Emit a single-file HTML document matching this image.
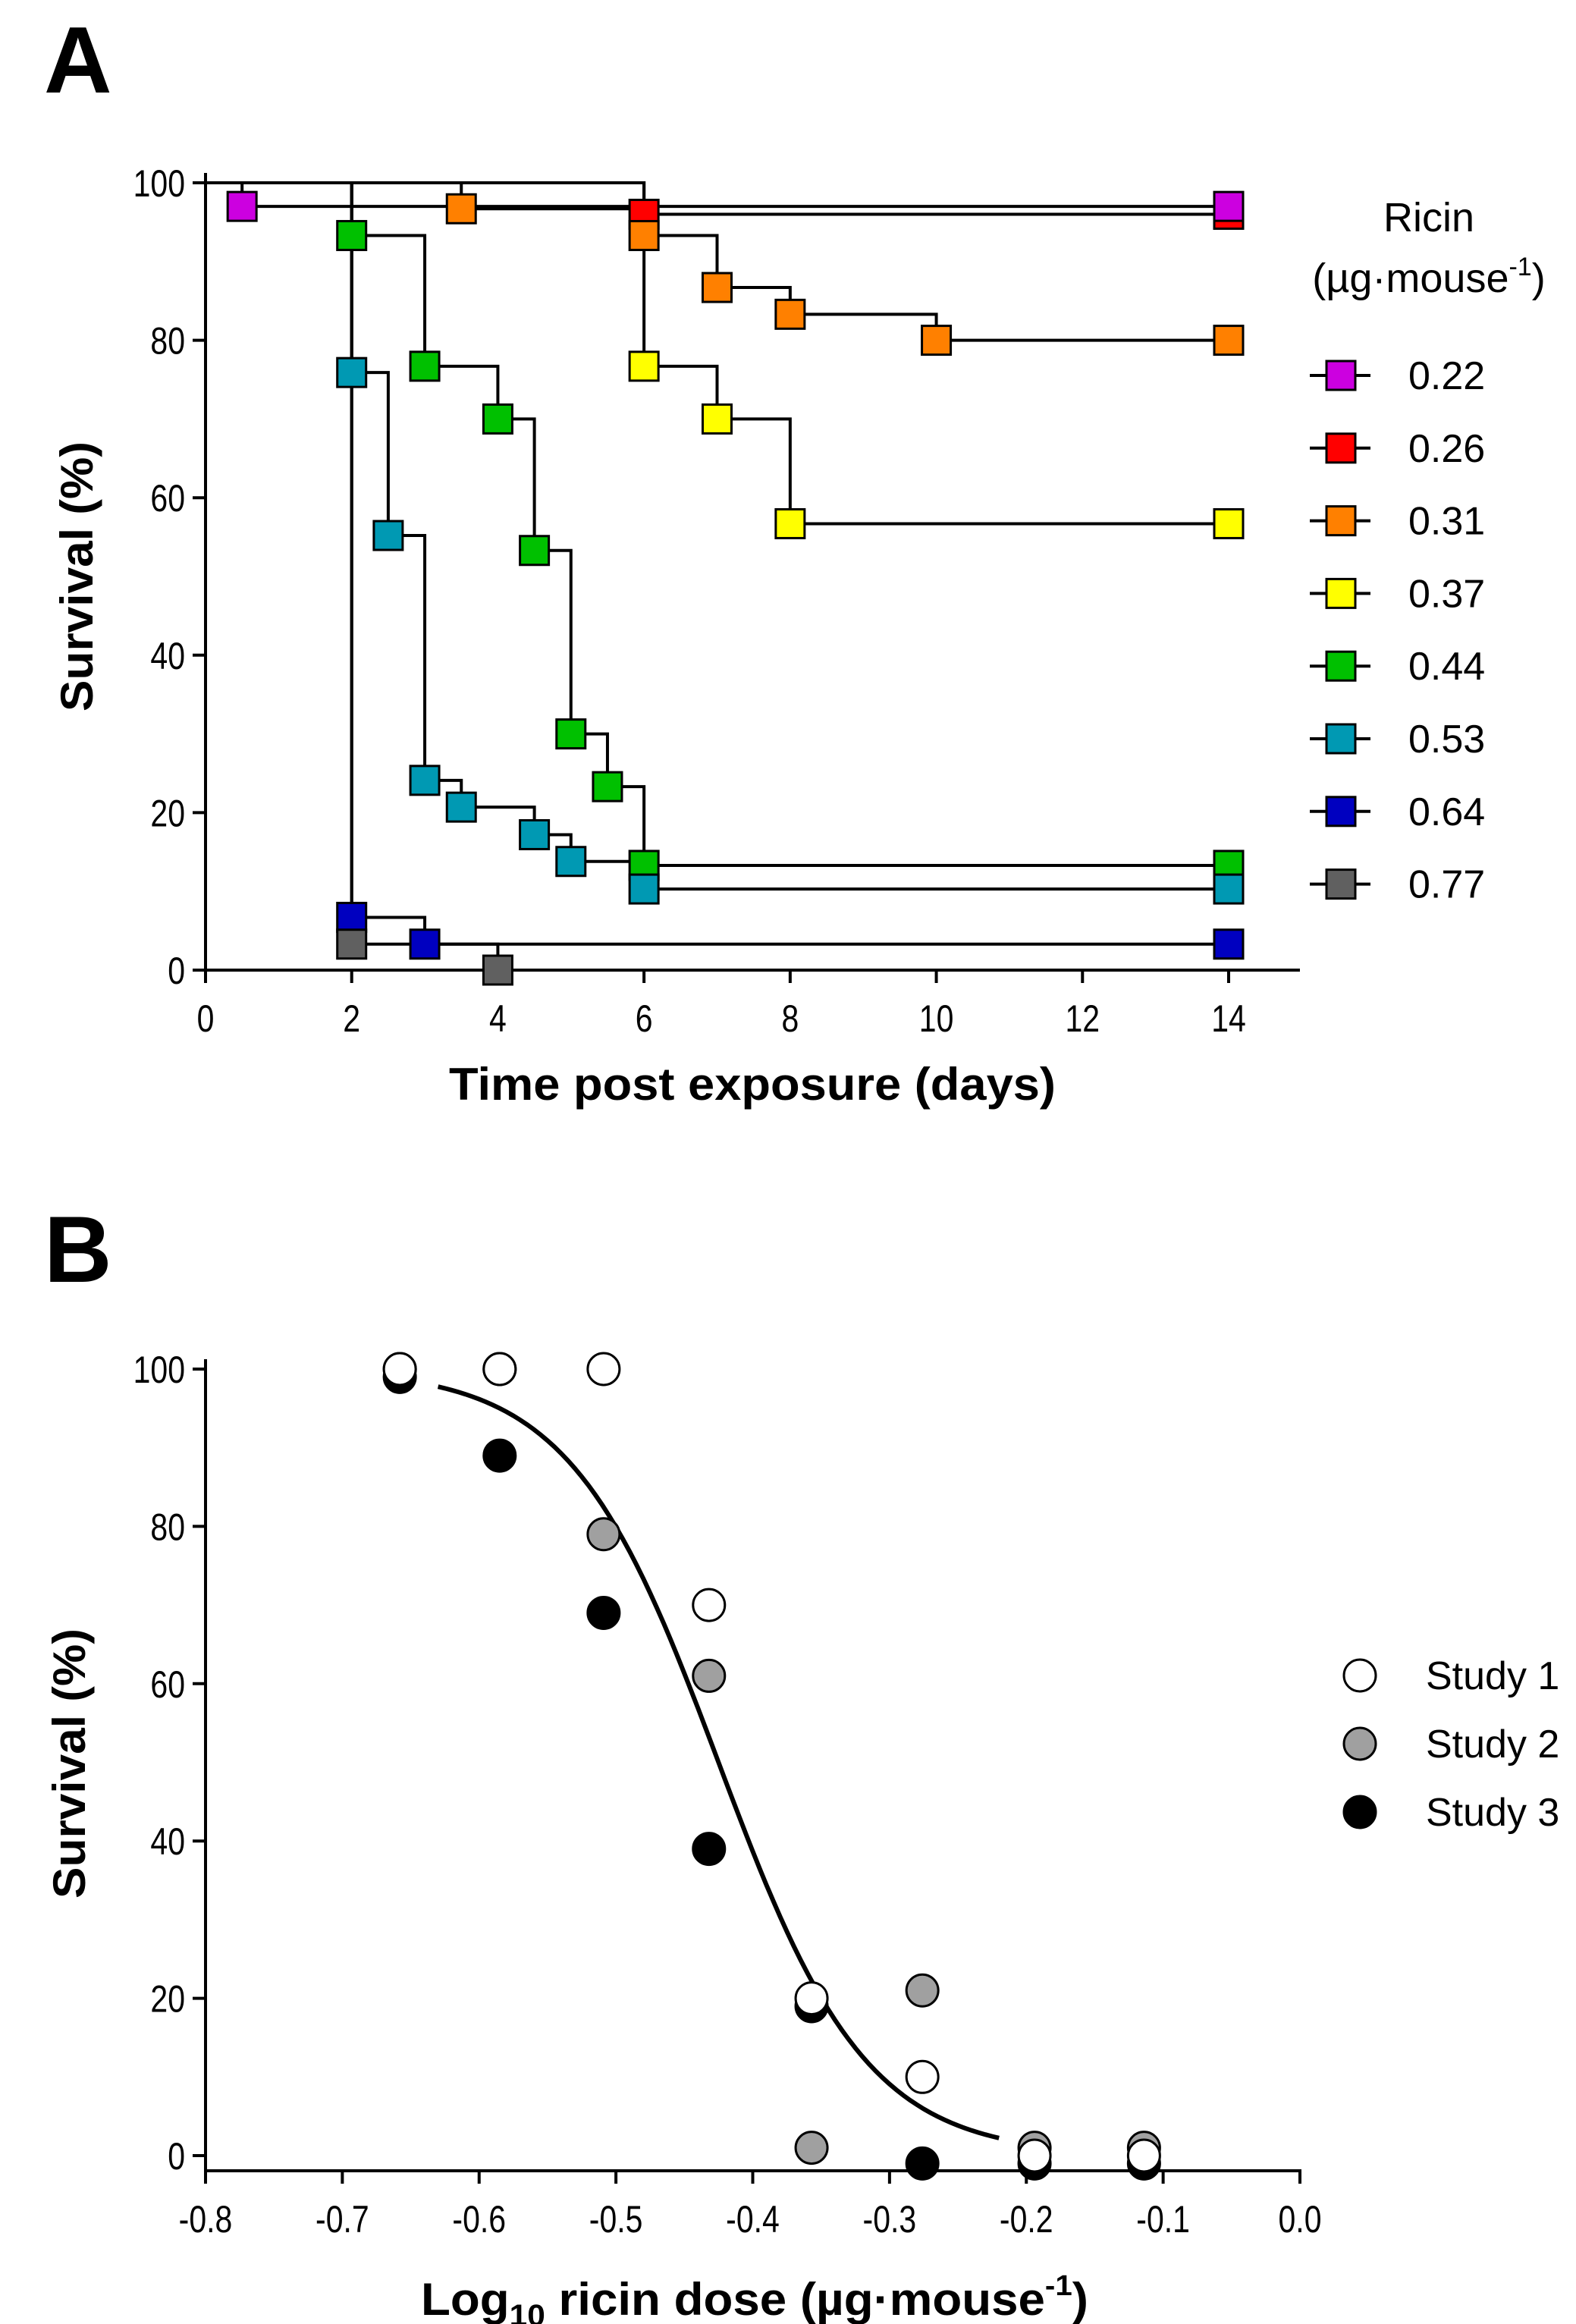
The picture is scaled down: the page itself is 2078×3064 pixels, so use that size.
<!DOCTYPE html>
<html><head><meta charset="utf-8"><style>
html,body{margin:0;padding:0;background:#fff}
svg{display:block;font-family:"Liberation Sans",Arial,sans-serif}
</style></head><body>
<svg id="fig" width="2078" height="3064" viewBox="0 0 2078 3064" xmlns="http://www.w3.org/2000/svg">
<text x="58" y="122" font-size="124" font-weight="bold">A</text>
<text x="58" y="1690" font-size="124" font-weight="bold">B</text>
<g id="pa"></g>
<g id="pb"></g>
</svg>
<script>
const NS="http://www.w3.org/2000/svg";
// ---- Panel A data ----
const doses=["0.22","0.26","0.31","0.37","0.44","0.53","0.64","0.77"];
const colors=["#cc00e0","#ff0000","#ff8000","#ffff00","#00c000","#0099b3","#0000c0","#606060"];
const times022=[0.5,14], surv022=[97,97];
const times026=[6,14], surv026=[96,96];
const times031=[3.5,6,7,8,10,14], surv031=[96.7,93.3,86.7,83.3,80,80];
const times037=[6,7,8,14], surv037=[76.7,70,56.7,56.7];
const times044=[2,3,4,4.5,5,5.5,6,14], surv044=[93.3,76.7,70,53.3,30,23.3,13.3,13.3];
const times053=[2,2.5,3,3.5,4.5,5,6,14], surv053=[75.9,55.2,24.1,20.7,17.2,13.8,10.3,10.3];
const times064=[2,3,14], surv064=[6.7,3.3,3.3];
const times077=[2,4], surv077=[3.3,0];
const xTicksA=[0,2,4,6,8,10,12,14];
const yTicksA=[0,20,40,60,80,100];
// ---- Panel B data ----
const logDose=[-0.658,-0.585,-0.509,-0.432,-0.357,-0.276,-0.194,-0.114];
const study1=[100,100,100,70,20,10,0,0];
const study2=[100,100,79,61,1,21,1,1];
const study3=[99,89,69,39,19,-1,-1,-1];
const fitX50=-0.425, fitHill=8;
const xTicksB=["-0.8","-0.7","-0.6","-0.5","-0.4","-0.3","-0.2","-0.1","0.0"];
const yTicksB=[0,20,40,60,80,100];

function el(tag,attrs,parent){const e=document.createElementNS(NS,tag);for(const k in attrs)e.setAttribute(k,attrs[k]);parent.appendChild(e);return e;}
function tick(parent,x,y,txt,anchor){
  const t=el('text',{transform:`translate(${x},${y}) scale(0.82,1)`,'font-size':50,'text-anchor':anchor},parent);
  t.textContent=txt;return t;
}

// ===== Panel A =====
const pa=document.getElementById('pa');
const ax=t=>271+t*(1620-271)/14;
const ay=v=>1279-v*(1279-241)/100;
let e;
e=el('line',{x1:271,y1:228,x2:271,y2:1279,stroke:'#000','stroke-width':4},pa);


e=el('line',{x1:269,y1:1279,x2:1714,y2:1279,stroke:'#000','stroke-width':4},pa);


yTicksA.forEach(v=>{
  el('line',{x1:254,y1:ay(v),x2:271,y2:ay(v),stroke:'#000','stroke-width':4},pa);
  e=tick(pa,244,ay(v)+18,v,'end');
  
  
});
xTicksA.forEach(t=>{
  el('line',{x1:ax(t),y1:1279,x2:ax(t),y2:1296,stroke:'#000','stroke-width':4},pa);
  e=tick(pa,ax(t),1360,t,'middle');
  
  
});
e=el('text',{x:592,y:1450,'font-size':60,'font-weight':'bold',textLength:800,lengthAdjust:'spacingAndGlyphs'},pa);e.textContent='Time post exposure (days)';


e=el('text',{transform:'translate(122,760) rotate(-90)','font-size':60,'font-weight':'bold','text-anchor':'middle',textLength:356,lengthAdjust:'spacingAndGlyphs'},pa);e.textContent='Survival (%)';



const seriesA=[[times022,surv022],[times026,surv026],[times031,surv031],[times037,surv037],[times044,surv044],[times053,surv053],[times064,surv064],[times077,surv077]];
seriesA.forEach((s,i)=>{
  const [ts,vs]=s;let d=`M${ax(0)},${ay(100)}`;
  ts.forEach((t,j)=>{d+=` H${ax(t)} V${ay(vs[j])}`;});
  e=el('path',{d:d,fill:'none',stroke:'#000','stroke-width':4},pa);
  
  
});
const order=[1,2,3,4,5,6,7,0];
order.forEach(i=>{
  const [ts,vs]=seriesA[i];
  ts.forEach((t,j)=>{
    e=el('rect',{x:ax(t)-19,y:ay(vs[j])-19,width:38,height:38,fill:colors[i],stroke:'#000','stroke-width':3},pa);
    
    
  });
});
// legend A
e=el('text',{x:1884,y:305,'font-size':54,'text-anchor':'middle'},pa);e.textContent='Ricin';


e=el('text',{x:1884,y:385,'font-size':54,'text-anchor':'middle'},pa);
e.innerHTML='(µg·mouse<tspan font-size="34" dy="-22">-1</tspan><tspan dy="22">)</tspan>';


doses.forEach((d,i)=>{
  const y=495+i*95.8;
  const g=el('g',{},pa);
  
  
  el('line',{x1:1727,y1:y,x2:1807,y2:y,stroke:'#000','stroke-width':4},g);
  el('rect',{x:1749,y:y-19,width:38,height:38,fill:colors[i],stroke:'#000','stroke-width':3},g);
  const t=el('text',{x:1857,y:y+18,'font-size':52},g);t.textContent=d;
});

// ===== Panel B =====
const pb=document.getElementById('pb');
const bx=v=>271+(v+0.8)*(1714-271)/0.8;
const by=v=>2842-v*(2842-1805)/100;
e=el('line',{x1:271,y1:1792,x2:271,y2:2862,stroke:'#000','stroke-width':4},pb);


e=el('line',{x1:269,y1:2862,x2:1716,y2:2862,stroke:'#000','stroke-width':4},pb);


yTicksB.forEach(v=>{
  el('line',{x1:254,y1:by(v),x2:271,y2:by(v),stroke:'#000','stroke-width':4},pb);
  e=tick(pb,244,by(v)+18,v,'end');
  
  
});
xTicksB.forEach(t=>{
  const x=bx(parseFloat(t));
  el('line',{x1:x,y1:2862,x2:x,y2:2879,stroke:'#000','stroke-width':4},pb);
  e=tick(pb,x,2943,t,'middle');
  
  
});
e=el('text',{x:555,y:3052,'font-size':60,'font-weight':'bold',textLength:880,lengthAdjust:'spacingAndGlyphs'},pb);
e.innerHTML='Log<tspan font-size="40" dy="14">10</tspan><tspan dy="-14"> ricin dose (µg·mouse</tspan><tspan font-size="38" dy="-26">-1</tspan><tspan dy="26">)</tspan>';


e=el('text',{transform:'translate(112,2325) rotate(-90)','font-size':60,'font-weight':'bold','text-anchor':'middle',textLength:356,lengthAdjust:'spacingAndGlyphs'},pb);e.textContent='Survival (%)';


// fit curve
let d='';
for(let x=-0.63;x<=-0.2199;x+=0.005){const v=100/(1+Math.pow(10,(x-fitX50)*fitHill));d+=(d?' L':'M')+bx(x).toFixed(1)+','+by(v).toFixed(1);}
e=el('path',{d:d,fill:'none',stroke:'#000','stroke-width':6},pb);


const studies=[[study3,'#000','study-3'],[study2,'#a0a0a0','study-2'],[study1,'#fff','study-1']];
studies.forEach(([vals,c,n])=>{
  vals.forEach((v,i)=>{
    e=el('circle',{cx:bx(logDose[i]),cy:by(v),r:21,fill:c,stroke:'#000','stroke-width':3},pb);
    
    
  });
});
['Study 1','Study 2','Study 3'].forEach((s,i)=>{
  const y=2209+i*90;
  const g=el('g',{},pb);
  
  
  el('circle',{cx:1793,cy:y,r:21,fill:['#fff','#a0a0a0','#000'][i],stroke:'#000','stroke-width':3},g);
  const t=el('text',{x:1880,y:y+18,'font-size':52},g);t.textContent=s;
});
</script>
</body></html>
